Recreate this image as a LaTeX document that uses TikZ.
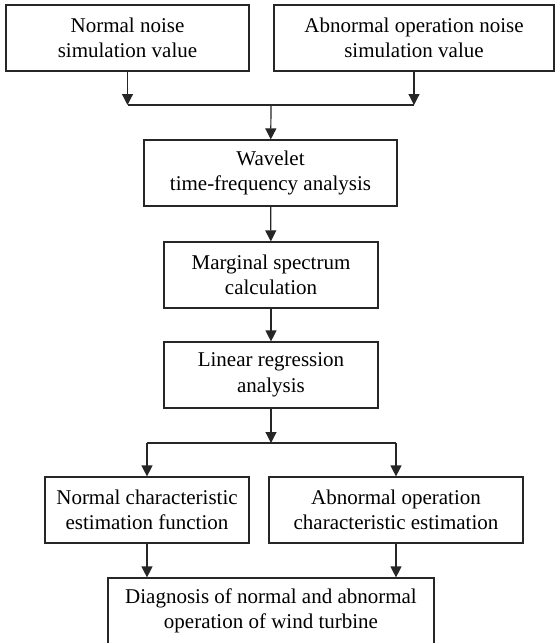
\documentclass[tikz,border=0pt]{standalone}
\usepackage{fontspec}
\setmainfont{Liberation Serif}
\usetikzlibrary{arrows.meta}

\begin{document}
\begin{tikzpicture}[x=0.5pt,y=-0.5pt]
	\tikzstyle{block}=[draw=black!85,line width=0.6pt,minimum height=33pt,inner sep=0pt,align=center,font=\fontsize{10.5}{12.8}\selectfont]
	\tikzstyle{flow}=[draw=black!85,line width=0.6pt,-{Triangle[length=5.5pt,width=5.5pt]}]
	\useasboundingbox (0,0) rectangle (555,643);
	\node (normal) [block, minimum width=121.5pt] at (127.5,38) {Normal noise\\simulation value};
	\node (abnormal) [block, minimum width=140pt] at (414,38) {Abnormal operation noise\\simulation value};
	\node (wavelet) [block, minimum width=126.5pt] at (270.5,173) {Wavelet\\time-frequency analysis};
	\node (marginal) [block, minimum width=107pt] at (271,275) {Marginal spectrum\\calculation};
	\node (linear) [block, minimum width=107pt] at (271,375) {Linear regression\\analysis};
	\node (normchar) [block, minimum width=102pt] at (147,510) {Normal characteristic\\estimation function};
	\node (abnchar) [block, minimum width=127pt] at (396,510) {Abnormal operation\\characteristic estimation};
	\node (diagnosis) [block, minimum width=163pt] at (271,611) {Diagnosis of normal and abnormal\\operation of wind turbine};
	\coordinate (join) at (271,105);
	\coordinate (split) at (271,443);
	% merge the two inputs
	\draw[flow] (normal) -- (normal |- join);
	\draw[flow] (abnormal) -- (abnormal |- join);
	\draw[draw=black!85,line width=0.6pt] (normal |- join) -- (abnormal |- join);
	\draw[flow] (join) -- (wavelet);
	\draw[flow] (wavelet) -- (marginal);
	\draw[flow] (marginal) -- (linear);
	\draw[flow] (linear) -- (split);
	% split into the two estimations
	\draw[draw=black!85,line width=0.6pt] (normchar |- split) -- (abnchar |- split);
	\draw[flow] (normchar |- split) -- (normchar);
	\draw[flow] (abnchar |- split) -- (abnchar);
	\draw[flow] (normchar) -- (normchar |- diagnosis.north);
	\draw[flow] (abnchar) -- (abnchar |- diagnosis.north);
\end{tikzpicture}
\end{document}
